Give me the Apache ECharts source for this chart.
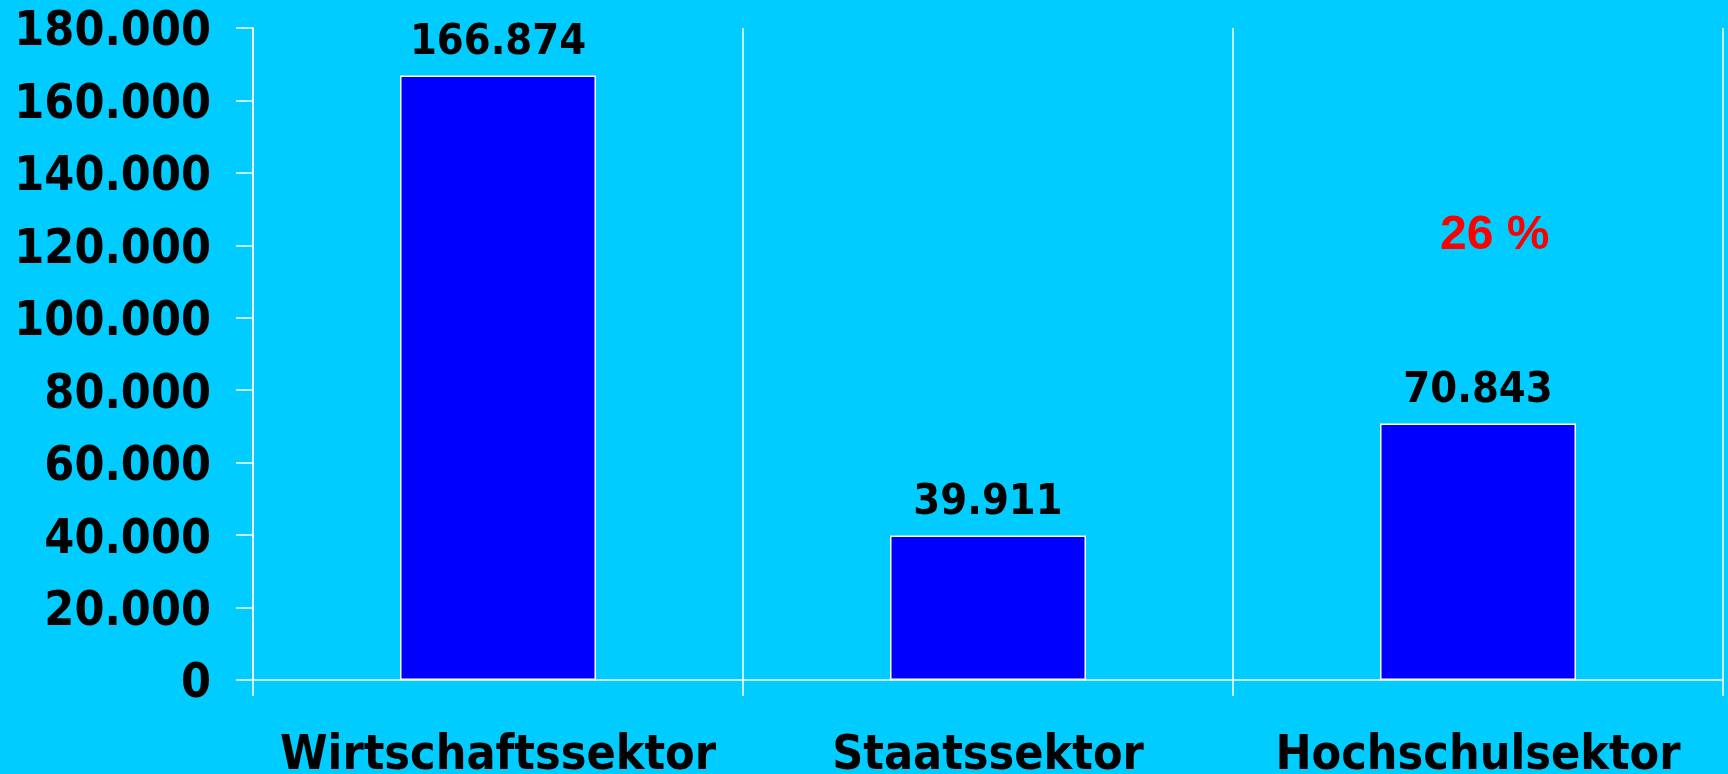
<!DOCTYPE html>
<html>
<head>
<meta charset="utf-8">
<script src="https://cdn.jsdelivr.net/npm/echarts@6/dist/echarts.min.js"></script>
<style>
html,body{margin:0;padding:0;background:#00CCFF;}
#chart{width:1728px;height:774px;}
</style>
</head>
<body>
<div id="chart"></div>
<script>
const categories = ['Wirtschaftssektor', 'Staatssektor', 'Hochschulsektor'];
const values = [166874, 39911, 70843];
const annotationText = '26 %';
const yMin = 0, yMax = 180000, yInterval = 20000;

const FONT = '"DejaVu Sans Condensed", "DejaVu Sans", sans-serif';
function fmt(v) {
  return String(v).replace(/\B(?=(\d{3})+(?!\d))/g, '.');
}

const chart = echarts.init(document.getElementById('chart'), null, {renderer: 'canvas'});
chart.setOption({
  backgroundColor: '#00CCFF',
  animation: false,
  grid: {left: 253, right: 5, top: 28, bottom: 94, containLabel: false, outerBoundsMode: 'none'},
  xAxis: {
    type: 'category',
    data: categories,
    axisLine: {lineStyle: {color: '#FFFFFF', width: 1.5}},
    axisTick: {show: true, interval: 0, length: 16, lineStyle: {color: '#FFFFFF', width: 1.5}},
    splitLine: {show: true, interval: 0, lineStyle: {color: '#FFFFFF', width: 1.5}},
    axisLabel: {interval: 0, color: '#000', fontFamily: FONT, fontWeight: 'bold', fontSize: 48, margin: 53}
  },
  yAxis: {
    type: 'value',
    min: yMin, max: yMax, interval: yInterval,
    axisLine: {show: true, lineStyle: {color: '#FFFFFF', width: 1.5}},
    axisTick: {show: true, length: 17, lineStyle: {color: '#FFFFFF', width: 1.5}},
    splitLine: {show: false},
    axisLabel: {color: '#000', fontFamily: FONT, fontWeight: 'bold', fontSize: 48, margin: 42,
      formatter: v => '{a|' + fmt(v) + '}',
      rich: {a: {fontFamily: FONT, fontWeight: 'bold', fontSize: 48, color: '#000', padding: [10, 0, 0, 0]}}
    }
  },
  series: [{
    type: 'bar',
    data: values,
    barWidth: '40%',
    itemStyle: {color: '#0000FF', borderColor: '#FFFFFF', borderWidth: 1.5},
    label: {
      show: true, position: 'top', distance: 11,
      color: '#000', fontFamily: FONT, fontWeight: 'bold', fontSize: 43,
      formatter: p => fmt(p.value)
    }
  }],
  graphic: [{
    type: 'text',
    left: 1440, top: 212,
    style: {text: annotationText, fill: '#FF0000', font: 'bold 48px "Liberation Sans", Arial, sans-serif'}
  }]
});
</script>
</body>
</html>
